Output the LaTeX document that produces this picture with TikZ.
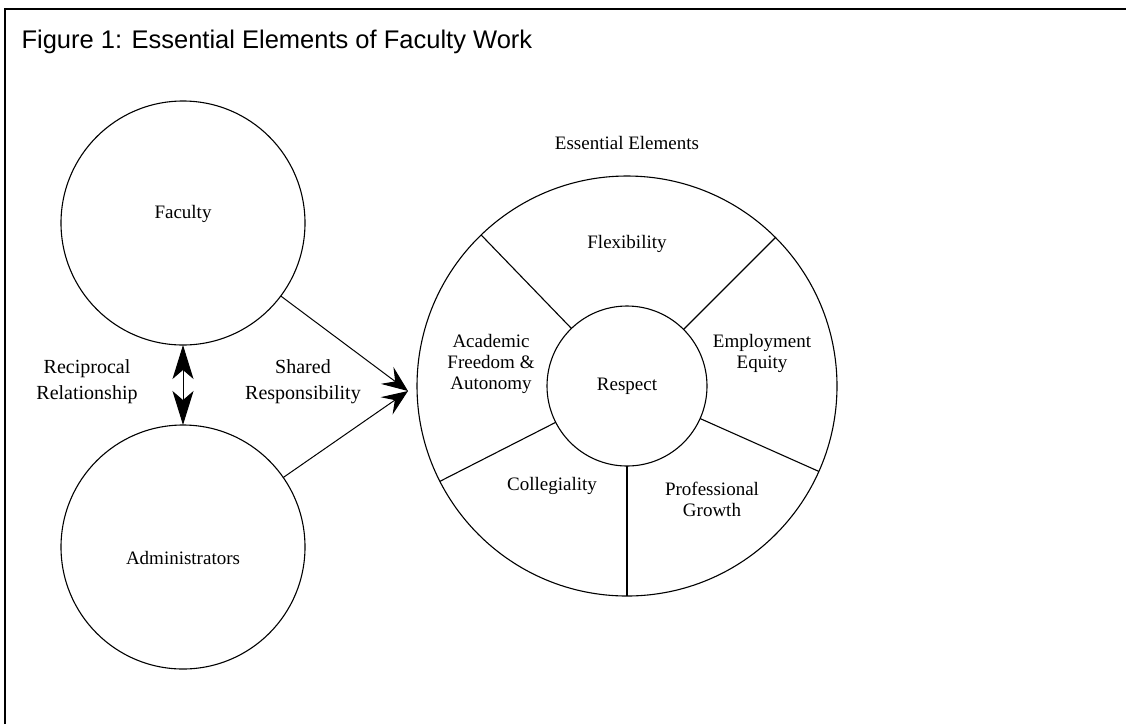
\documentclass[tikz,border=0pt]{standalone}
\usepackage{fontspec}
\setmainfont{Liberation Serif}
\newfontfamily\titlefont{Liberation Sans}
\usetikzlibrary{arrows.meta}

\begin{document}
\begin{tikzpicture}[x=1pt,y=-1pt]
		\tikzstyle{party}=[draw,circle,line width=1.1pt,minimum size=244pt,inner sep=0pt,outer sep=0pt,font=\fontsize{19}{21}\selectfont]
		\tikzstyle{elem}=[align=center,font=\fontsize{19}{21}\selectfont]
		\tikzstyle{side}=[align=center,font=\fontsize{20}{26}\selectfont]
		\tikzstyle{big}=[-{Stealth[length=26pt,width=21pt,inset=10pt]},line width=1pt]
		
		\useasboundingbox (0,0) rectangle (1126,724);
		\draw[line width=1.6pt] (5,724)--(5,9)--(1126,9);
		\node[anchor=west,font=\titlefont\fontsize{25.5}{28}\selectfont] (title) at (18,42) {Figure 1: Essential Elements of Faculty Work};
		
		\node (fac) at (183,223) [party] {};
		\node at (183,214) [elem] {Faculty};
		\node (adm) at (183,547) [party] {};
		\node at (183,558) [elem] {Administrators};
		
		\node (ring) at (627,386) [draw,circle,line width=1.1pt,minimum size=420pt,inner sep=0pt,outer sep=0pt] {};
		\node (resp) at (627,386) [draw,circle,line width=1.1pt,minimum size=160pt,inner sep=0pt,outer sep=0pt,elem] {Respect};
		\foreach \a in {45,134,207,270,336}
			\draw[line width=1.1pt] (resp.\a)--(ring.\a);
		
		\node (head) at (627,143) [elem] {Essential Elements};
		\node (flex) at (627,244) [elem] {Flexibility};
		\node (acad) at (491,364) [elem] {Academic\\Freedom \&\\Autonomy};
		\node (equi) at (762,353) [elem] {Employment\\Equity};
		\node (coll) at (552,486) [elem] {Collegiality};
		\node (prof) at (712,499) [elem] {Professional\\Growth};
		
		\node (recip) at (87,382) [side] {Reciprocal\\Relationship};
		\node (share) at (303,382) [side] {Shared\\Responsibility};
		
		\coordinate (tip) at (408,391);
		\draw[big] (fac)--(tip);
		\draw[big] (adm)--(tip);
		\draw[line width=1pt,{Stealth[length=34pt,width=21pt,inset=9pt]}-{Stealth[length=34pt,width=21pt,inset=9pt]}] (fac.south)--(adm.north);
		
\end{tikzpicture}
\end{document}
